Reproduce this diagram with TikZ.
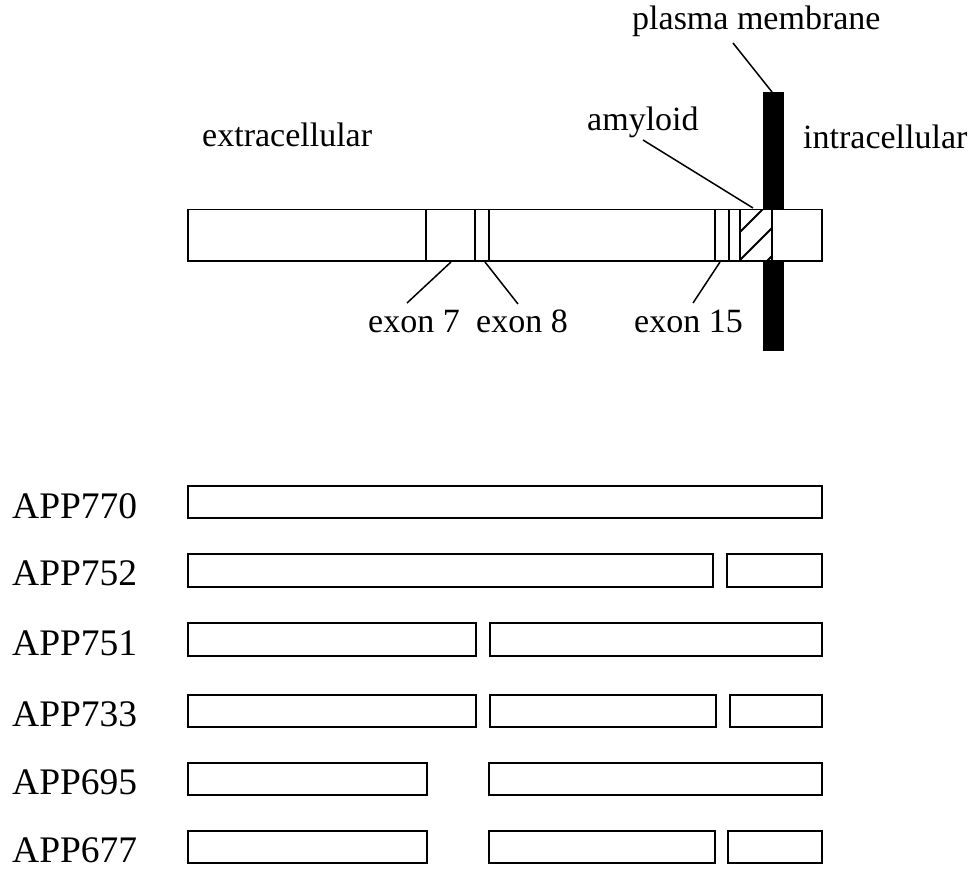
\documentclass[tikz,border=0pt]{standalone}
\usepackage{fontspec}
\setmainfont{Liberation Serif}
\begin{document}
\begin{tikzpicture}[x=1pt,y=-1pt,
  lbl/.style={font=\fontsize{34}{40}\selectfont, inner sep=0pt, anchor=base west},
  applbl/.style={font=\fontsize{37.5}{44}\selectfont, inner sep=0pt, anchor=base west},
  seg/.style={draw, line width=1.8pt, fill=white},
  isobox/.style={draw, line width=2.2pt},
  lead/.style={line width=1.5pt},
  divider/.style={line width=1.8pt}]
\useasboundingbox (0,0) rectangle (973,875);

% plasma membrane
\fill[black] (763,92) rectangle (784,351);

% APP protein bar
\draw[seg] (188,209.5) rectangle (822,261);
\foreach \xx in {426,475,489,715,729,740,772}
  \draw[divider] (\xx,209.5) -- (\xx,261);
% amyloid hatching
\begin{scope}
  \clip (740,209.5) rectangle (772,261);
  \foreach \s in {944,972,1000,1028}
    \draw[line width=1.8pt] (\s-209.5+20,189.5) -- (\s-261-20,281);
\end{scope}
\draw[divider] (740,209.5) rectangle (772,261);

% labels
\node[lbl] (pm)  at (632,30)  {plasma membrane};
\node[lbl] (ex)  at (202,146) {extracellular};
\node[lbl] (in)  at (803,148) {intracellular};
\node[lbl] (am)  at (587,130) {amyloid};
\node[lbl] (e7)  at (368,332) {exon 7};
\node[lbl] (e8)  at (476,332) {exon 8};
\node[lbl] (e15) at (634,332) {exon 15};

% leader end points
\coordinate (pmA) at (733,43);
\coordinate (pmB) at (772,92);
\coordinate (amA) at (643,140);
\coordinate (amB) at (753,208);
\coordinate (e7A) at (407,303);
\coordinate (e7B) at (451,262);
\coordinate (e8A) at (518,304);
\coordinate (e8B) at (485,262);
\coordinate (e15A) at (693,303);
\coordinate (e15B) at (720,262);
\draw[lead] (pmA) -- (pmB);
\draw[lead] (amA) -- (amB);
\draw[lead] (e7A) -- (e7B);
\draw[lead] (e8A) -- (e8B);
\draw[lead] (e15A) -- (e15B);

% isoforms
\node[applbl] (a770) at (12,518) {APP770};
\draw[isobox] (188,486) rectangle (822,518);

\node[applbl] (a752) at (12,585) {APP752};
\draw[isobox] (188,554) rectangle (713,587);
\draw[isobox] (727,554) rectangle (822,587);

\node[applbl] (a751) at (12,655) {APP751};
\draw[isobox] (188,623) rectangle (476,656);
\draw[isobox] (490,623) rectangle (822,656);

\node[applbl] (a733) at (12,726) {APP733};
\draw[isobox] (188,695) rectangle (476,727);
\draw[isobox] (490,695) rectangle (716,727);
\draw[isobox] (730,695) rectangle (822,727);

\node[applbl] (a695) at (12,794) {APP695};
\draw[isobox] (188,763) rectangle (427,795);
\draw[isobox] (489,763) rectangle (822,795);

\node[applbl] (a677) at (12,862) {APP677};
\draw[isobox] (188,831) rectangle (427,863);
\draw[isobox] (489,831) rectangle (715,863);
\draw[isobox] (728,831) rectangle (822,863);
\end{tikzpicture}
\end{document}
